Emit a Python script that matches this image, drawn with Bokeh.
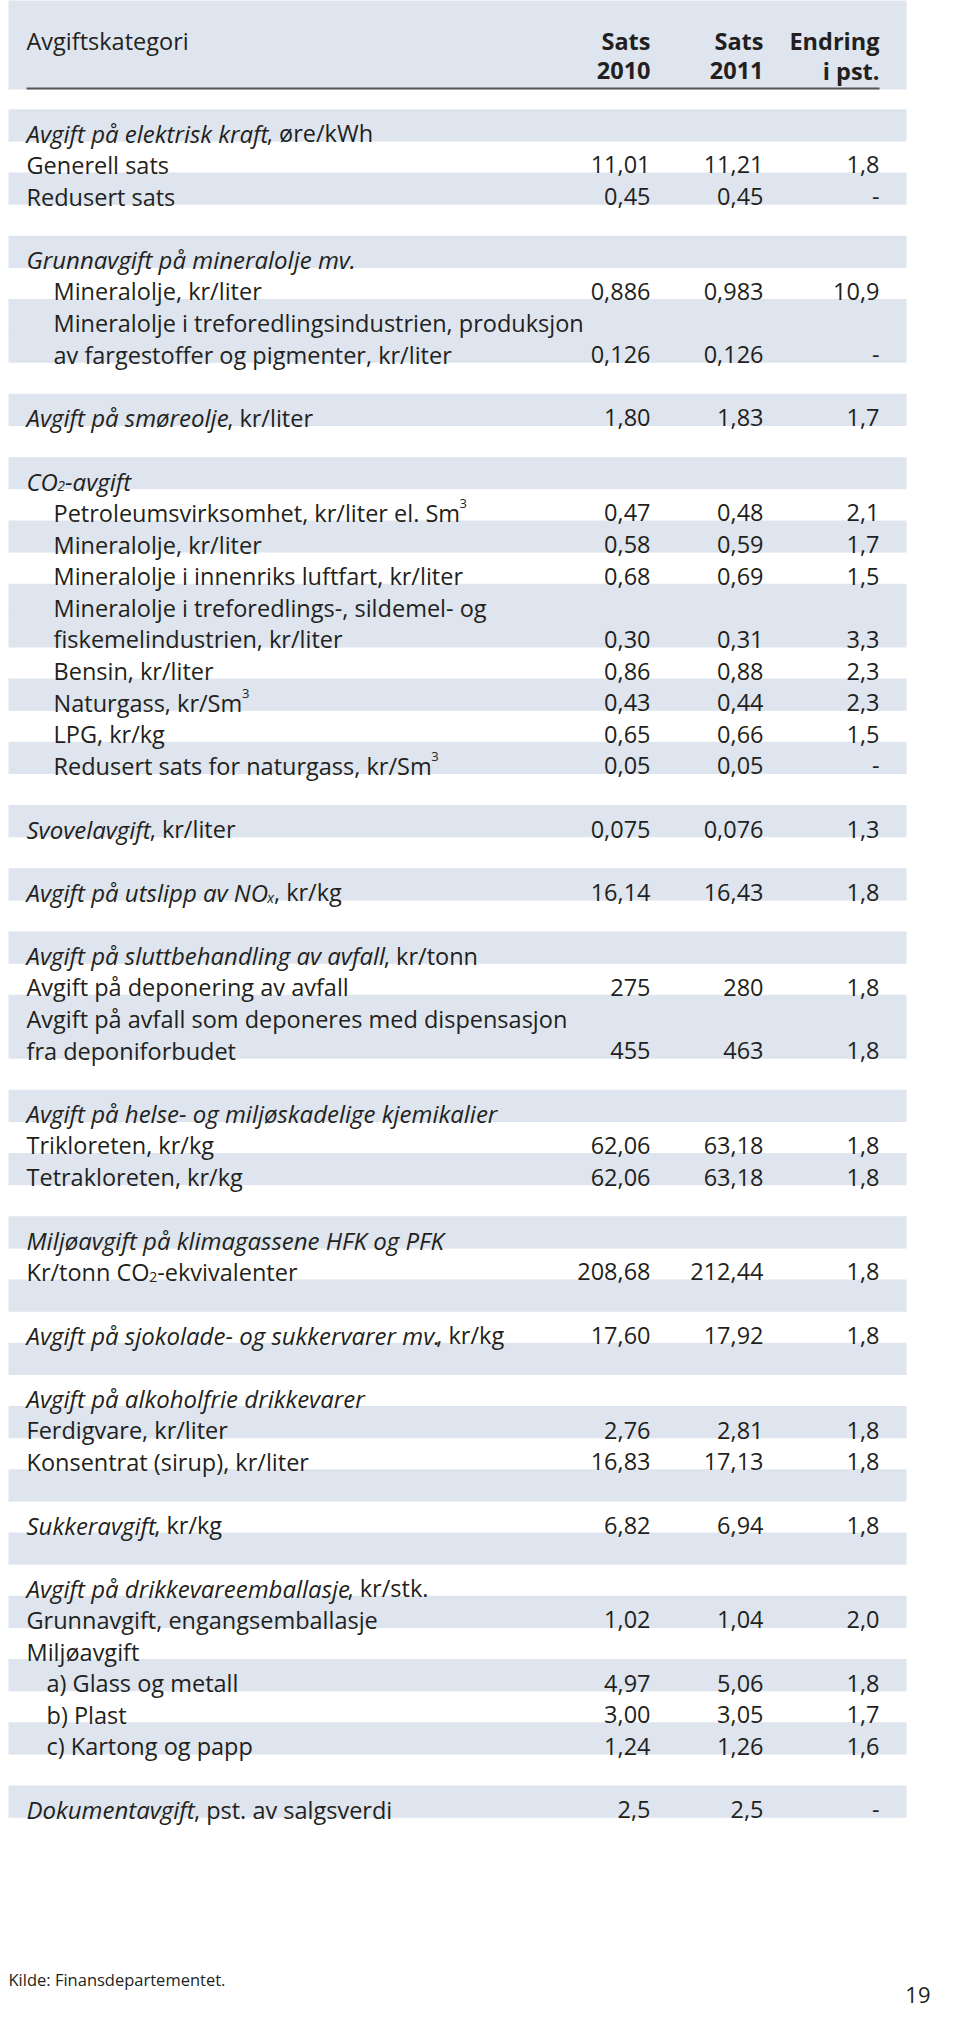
import os
import re
from bokeh.plotting import figure
from bokeh.models import Range1d, ColumnDataSource
from bokeh.core.properties import value
from bokeh.embed import file_html
from bokeh.resources import INLINE

try:
    from PIL import ImageFont
except Exception:
    ImageFont = None

# ---------------- data ----------------
header_cols = [("Sats", "2010"), ("Sats", "2011"), ("Endring", "i pst.")]
header_first = "Avgiftskategori"

labels = [
    "{i}Avgift på elektrisk kraft{n}, øre/kWh",
    "Generell sats",
    "Redusert sats",
    "",
    "{i}Grunnavgift på mineralolje mv.",
    "Mineralolje, kr/liter",
    "Mineralolje i treforedlingsindustrien, produksjon",
    "av fargestoffer og pigmenter, kr/liter",
    "",
    "{i}Avgift på smøreolje{n}, kr/liter",
    "",
    "{i}CO{is}2{i}-avgift",
    "Petroleumsvirksomhet, kr/liter el. Sm{nu}3",
    "Mineralolje, kr/liter",
    "Mineralolje i innenriks luftfart, kr/liter",
    "Mineralolje i treforedlings-, sildemel- og",
    "fiskemelindustrien, kr/liter",
    "Bensin, kr/liter",
    "Naturgass, kr/Sm{nu}3",
    "LPG, kr/kg",
    "Redusert sats for naturgass, kr/Sm{nu}3",
    "",
    "{i}Svovelavgift{n}, kr/liter",
    "",
    "{i}Avgift på utslipp av NO{is}x{n}, kr/kg",
    "",
    "{i}Avgift på sluttbehandling av avfall{n}, kr/tonn",
    "Avgift på deponering av avfall",
    "Avgift på avfall som deponeres med dispensasjon",
    "fra deponiforbudet",
    "",
    "{i}Avgift på helse- og miljøskadelige kjemikalier",
    "Trikloreten, kr/kg",
    "Tetrakloreten, kr/kg",
    "",
    "{i}Miljøavgift på klimagassene HFK og PFK",
    "Kr/tonn CO{ns}2{n}-ekvivalenter",
    "",
    "{i}Avgift på sjokolade- og sukkervarer mv.{n}, kr/kg",
    "",
    "{i}Avgift på alkoholfrie drikkevarer",
    "Ferdigvare, kr/liter",
    "Konsentrat (sirup), kr/liter",
    "",
    "{i}Sukkeravgift{n}, kr/kg",
    "",
    "{i}Avgift på drikkevareemballasje{n}, kr/stk.",
    "Grunnavgift, engangsemballasje",
    "Miljøavgift",
    "a) Glass og metall",
    "b) Plast",
    "c) Kartong og papp",
    "",
    "{i}Dokumentavgift{n}, pst. av salgsverdi",
]

sats_2010 = ["", "11,01", "0,45", "", "", "0,886", "", "0,126", "", "1,80",
             "", "", "0,47", "0,58", "0,68", "", "0,30", "0,86", "0,43", "0,65",
             "0,05", "", "0,075", "", "16,14", "", "", "275", "", "455",
             "", "", "62,06", "62,06", "", "", "208,68", "", "17,60", "",
             "", "2,76", "16,83", "", "6,82", "", "", "1,02", "", "4,97",
             "3,00", "1,24", "", "2,5"]

sats_2011 = ["", "11,21", "0,45", "", "", "0,983", "", "0,126", "", "1,83",
             "", "", "0,48", "0,59", "0,69", "", "0,31", "0,88", "0,44", "0,66",
             "0,05", "", "0,076", "", "16,43", "", "", "280", "", "463",
             "", "", "63,18", "63,18", "", "", "212,44", "", "17,92", "",
             "", "2,81", "17,13", "", "6,94", "", "", "1,04", "", "5,06",
             "3,05", "1,26", "", "2,5"]

endring = ["", "1,8", "-", "", "", "10,9", "", "-", "", "1,7",
           "", "", "2,1", "1,7", "1,5", "", "3,3", "2,3", "2,3", "1,5",
           "-", "", "1,3", "", "1,8", "", "", "1,8", "", "1,8",
           "", "", "1,8", "1,8", "", "", "1,8", "", "1,8", "",
           "", "1,8", "1,8", "", "1,8", "", "", "2,0", "", "1,8",
           "1,7", "1,6", "", "-"]

shaded = [1, 0, 1, 0, 1, 0, 1, 1, 0, 1, 0, 1, 0, 1, 0, 1, 1, 0, 1, 0,
          1, 0, 1, 0, 1, 0, 1, 0, 1, 1, 0, 1, 0, 1, 0, 1, 0, 1, 0, 1,
          0, 1, 0, 1, 0, 1, 0, 1, 0, 1, 0, 1, 0, 1]

indent = [0, 0, 0, 0, 0, 1, 1, 1, 0, 0, 0, 0, 1, 1, 1, 1, 1, 1, 1, 1,
          1, 0, 0, 0, 0, 0, 0, 0, 0, 0, 0, 0, 0, 0, 0, 0, 0, 0, 0, 0,
          0, 0, 0, 0, 0, 0, 0, 0, 0, 2, 2, 2, 0, 0]

source_note = "Kilde: Finansdepartementet."
page_number = "19"

# ---------------- styling / layout ----------------
FONT = "Open Sans"
BASE = 23.5
ITAL = 24.0
TXT = "#231f20"
BAND = "#dee5ee"
ROW0 = 117.0
ROW_H = 31.63
X_LEFT = [34, 61, 54]
COL_R = [658, 771, 887]
BOX_L, BOX_R = 16, 914

STYLE = {
    "n": ("normal", BASE, 0.0),
    "i": ("italic", ITAL, 0.0),
    "ns": ("normal", 14.0, 5.0),
    "is": ("italic", 14.0, 5.0),
    "nu": ("normal", 13.0, -9.0),
}


def _find_font(req, forb):
    roots = ["/usr/share/fonts", "/usr/local/share/fonts",
             os.path.expanduser("~/.fonts"), os.path.expanduser("~/.local/share/fonts")]
    cands = []
    for r in roots:
        if not os.path.isdir(r):
            continue
        for dp, _, fs in os.walk(r):
            for f in fs:
                fl = f.lower().replace(" ", "").replace("_", "")
                if fl.endswith((".ttf", ".otf")) and all(k in fl for k in req) and not any(k in fl for k in forb):
                    cands.append(os.path.join(dp, f))
    cands.sort(key=len)
    return cands[0] if cands else None


_fonts = {}


def measure(text, italic, size):
    if italic not in _fonts:
        f = None
        if ImageFont is not None:
            if italic:
                path = _find_font(["opensans", "italic"], ["bold", "light", "medium", "condensed", "semi", "extra"])
            else:
                path = _find_font(["opensans"], ["italic", "bold", "light", "medium", "condensed", "semi", "extra"])
            if path:
                try:
                    f = ImageFont.truetype(path, 200)
                except Exception:
                    f = None
        _fonts[italic] = f
    f = _fonts[italic]
    if f is None:
        return len(text) * size * (0.50 if italic else 0.53)
    return f.getlength(text) * size / 200.0


W, H = 944, 2014
p = figure(width=W, height=H, x_range=Range1d(8, 8 + W), y_range=Range1d(8 + H, 8),
           output_backend="svg", toolbar_location=None, min_border=0,
           x_axis_type=None, y_axis_type=None)
p.grid.visible = False
p.outline_line_color = None
p.background_fill_color = "white"
p.border_fill_color = "white"

# header box + line
p.quad(left=[BOX_L], right=[BOX_R], top=[4], bottom=[97], fill_color=BAND, line_color=None)
p.segment(x0=[34], y0=[96], x1=[887], y1=[96], line_color="#555555", line_width=2)

# row bands
n = len(labels)
tops = [ROW0 + i * ROW_H for i in range(n)]
band_src = ColumnDataSource(dict(
    top=[tops[i] - 0.3 for i in range(n) if shaded[i]],
    bottom=[tops[i] + ROW_H + 0.3 for i in range(n) if shaded[i]],
))
p.quad(left=BOX_L, right=BOX_R, top="top", bottom="bottom", source=band_src,
       fill_color=BAND, line_color=None)

# header texts
p.text(x=[34], y=[48], text=[header_first], text_font=value(FONT), text_font_size=f"{BASE}px",
       text_color=TXT, text_align="left", text_baseline="alphabetic")
for k, (l1, l2) in enumerate(header_cols):
    p.text(x=[COL_R[k], COL_R[k]], y=[48, 78], text=[l1, l2], text_font=value(FONT),
           text_font_size=f"{BASE}px", text_font_style="bold", text_color=TXT,
           text_align="right", text_baseline="alphabetic")

# row labels
groups = {k: {"x": [], "y": [], "text": []} for k in STYLE}
for i, lab in enumerate(labels):
    if not lab:
        continue
    parts = re.split(r"\{(\w+)\}", lab)
    segs = [("n", parts[0])] + [(parts[k], parts[k + 1]) for k in range(1, len(parts), 2)]
    x = X_LEFT[indent[i]]
    yb = tops[i] + ROW_H / 2 + 8
    for st, tx in segs:
        if not tx:
            continue
        fs, size, dy = STYLE[st]
        groups[st]["x"].append(x)
        groups[st]["y"].append(yb + dy)
        groups[st]["text"].append(tx)
        x += measure(tx, fs == "italic", size)

for st, g in groups.items():
    if not g["x"]:
        continue
    fs, size, _ = STYLE[st]
    p.text(x="x", y="y", text="text", source=ColumnDataSource(g), text_font=value(FONT),
           text_font_size=f"{size}px", text_font_style=fs, text_color=TXT,
           text_align="left", text_baseline="alphabetic")

# value columns
for k, col in enumerate([sats_2010, sats_2011, endring]):
    idx = [i for i in range(n) if col[i]]
    src = ColumnDataSource(dict(x=[COL_R[k]] * len(idx),
                                y=[tops[i] + ROW_H / 2 + 8 for i in idx],
                                text=[col[i] for i in idx]))
    p.text(x="x", y="y", text="text", source=src, text_font=value(FONT),
           text_font_size=f"{BASE}px", text_color=TXT, text_align="right",
           text_baseline="alphabetic")

# footer
p.text(x=[16], y=[1987], text=[source_note], text_font=value(FONT), text_font_size="16.5px",
       text_color=TXT, text_align="left", text_baseline="alphabetic")
p.text(x=[938], y=[2002], text=[page_number], text_font=value(FONT), text_font_size="22px",
       text_color=TXT, text_align="right", text_baseline="alphabetic")

open("out.html", "w").write(file_html(p, INLINE))
